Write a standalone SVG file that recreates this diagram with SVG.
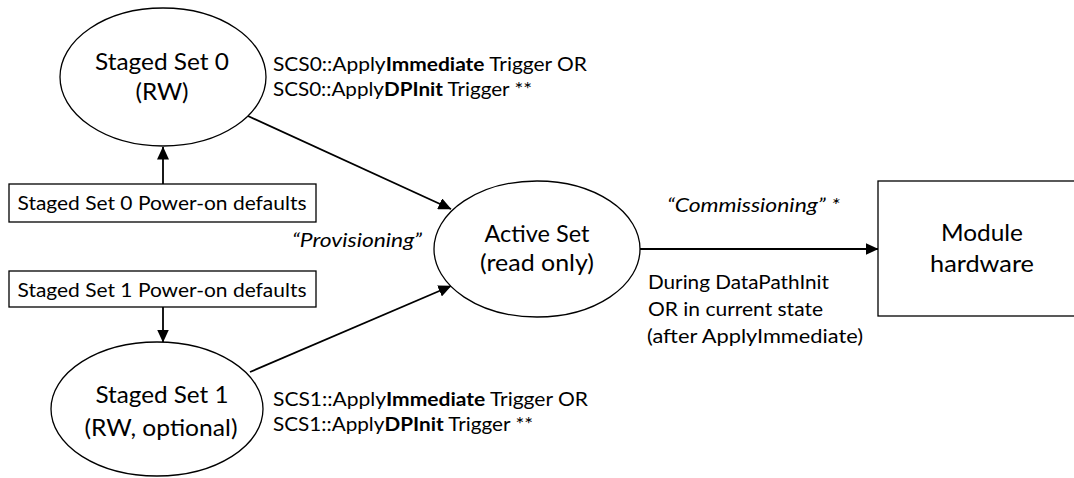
<svg xmlns="http://www.w3.org/2000/svg" width="1074" height="478" viewBox="0 0 1074 478">
  <style>
    .shape { fill: #ffffff; stroke: #000000; stroke-width: 1.3; }
    .edge { fill: none; stroke: #000000; stroke-width: 1.8; }
    text { font-family: "Lato", "Open Sans", sans-serif; fill: #000000; }
    .big { font-size: 24px; text-anchor: middle; }
    .box { font-size: 19.5px; text-anchor: middle; }
    .note { font-size: 18.5px; }
    .ital { font-style: italic; font-size: 20px; }
    .b { font-weight: bold; }
  </style>
  <defs>
    <marker id="arrow" markerWidth="13" markerHeight="12" viewBox="0 0 13 12" refX="12.5" refY="6" orient="auto" markerUnits="userSpaceOnUse">
      <path d="M0,0 L13,6 L0,12 Z" fill="#000000"/>
    </marker>
  </defs>

  <rect width="1074" height="478" fill="#ffffff"/>

  <!-- connectors -->
  <g id="connectors">
    <line class="edge" x1="163" y1="184" x2="163" y2="147" marker-end="url(#arrow)"/>
    <line class="edge" x1="163" y1="307" x2="163" y2="342" marker-end="url(#arrow)"/>
    <line class="edge" x1="248" y1="116" x2="451" y2="209" marker-end="url(#arrow)"/>
    <line class="edge" x1="250" y1="372" x2="451" y2="286" marker-end="url(#arrow)"/>
    <line class="edge" x1="640" y1="249" x2="878" y2="249" marker-end="url(#arrow)"/>
  </g>

  <!-- staged set 0 -->
  <g id="staged-set-0">
    <ellipse class="shape" cx="163" cy="77" rx="103" ry="69"/>
    <text class="big" x="162" y="70" textLength="134" lengthAdjust="spacingAndGlyphs">Staged Set 0</text>
    <text class="big" x="162" y="100" textLength="53" lengthAdjust="spacingAndGlyphs">(RW)</text>
  </g>

  <g id="staged-set-0-defaults">
    <rect class="shape" x="9" y="184" width="307" height="38"/>
    <text class="box" x="162" y="210" textLength="289" lengthAdjust="spacingAndGlyphs">Staged Set 0 Power-on defaults</text>
  </g>

  <g id="staged-set-1-defaults">
    <rect class="shape" x="9" y="271" width="307" height="36"/>
    <text class="box" x="162" y="297" textLength="289" lengthAdjust="spacingAndGlyphs">Staged Set 1 Power-on defaults</text>
  </g>

  <!-- staged set 1 -->
  <g id="staged-set-1">
    <ellipse class="shape" cx="157" cy="409" rx="106" ry="67"/>
    <text class="big" x="162" y="403" textLength="133" lengthAdjust="spacingAndGlyphs">Staged Set 1</text>
    <text class="big" x="161" y="436" textLength="153" lengthAdjust="spacingAndGlyphs">(RW, optional)</text>
  </g>

  <!-- active set -->
  <g id="active-set">
    <ellipse class="shape" cx="537" cy="249" rx="103" ry="68"/>
    <text class="big" x="537" y="242" textLength="105" lengthAdjust="spacingAndGlyphs">Active Set</text>
    <text class="big" x="537" y="271" textLength="114" lengthAdjust="spacingAndGlyphs">(read only)</text>
  </g>

  <!-- module hardware -->
  <g id="module-hardware">
    <rect class="shape" x="878" y="181" width="210" height="135"/>
    <text class="big" x="982" y="241" textLength="82" lengthAdjust="spacingAndGlyphs">Module</text>
    <text class="big" x="982" y="272" textLength="104" lengthAdjust="spacingAndGlyphs">hardware</text>
  </g>

  <!-- trigger labels -->
  <g id="labels">
    <text class="note" x="273" y="71" textLength="314" lengthAdjust="spacingAndGlyphs">SCS0::Apply<tspan class="b">Immediate</tspan> Trigger OR</text>
    <text class="note" x="273" y="96" textLength="259" lengthAdjust="spacingAndGlyphs">SCS0::Apply<tspan class="b">DPInit</tspan> Trigger **</text>
    <text class="note" x="273" y="406" textLength="315" lengthAdjust="spacingAndGlyphs">SCS1::Apply<tspan class="b">Immediate</tspan> Trigger OR</text>
    <text class="note" x="273" y="431" textLength="260" lengthAdjust="spacingAndGlyphs">SCS1::Apply<tspan class="b">DPInit</tspan> Trigger **</text>
    <text class="ital" x="292" y="247" textLength="130" lengthAdjust="spacingAndGlyphs">“Provisioning”</text>
    <text class="ital" x="667" y="212" textLength="173" lengthAdjust="spacingAndGlyphs">“Commissioning” *</text>
    <text class="note" x="648" y="289" textLength="181" lengthAdjust="spacingAndGlyphs">During DataPathInit</text>
    <text class="note" x="648" y="316" textLength="175" lengthAdjust="spacingAndGlyphs">OR in current state</text>
    <text class="note" x="647" y="343" textLength="216" lengthAdjust="spacingAndGlyphs">(after ApplyImmediate)</text>
  </g>
</svg>
